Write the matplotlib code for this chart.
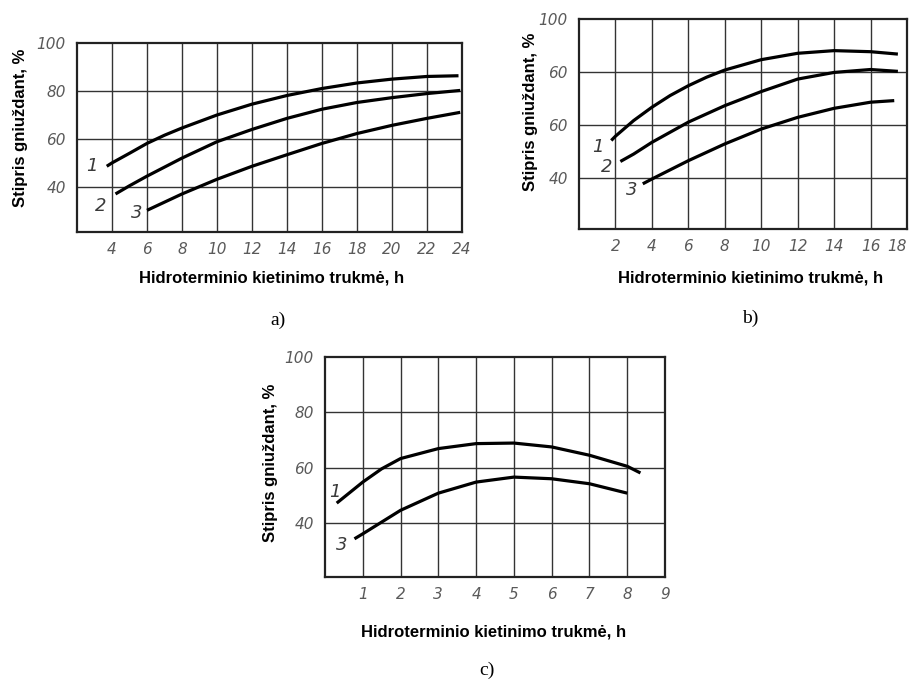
import matplotlib.pyplot as plt

# panel a) - x in hours, y in %
a_x1 = [3.7, 4, 5, 6, 7, 8, 10, 12, 14, 16, 18, 20, 22, 23.8]
a_y1 = [48.8, 50.2, 54.2, 58.3, 61.7, 64.7, 70.1, 74.6, 78.2, 81.1, 83.4, 85, 86.1, 86.4]
a_x2 = [4.2, 5, 6, 8, 10, 12, 14, 16, 18, 20, 22, 23.9]
a_y2 = [37.3, 40.7, 44.7, 52.2, 59, 64.1, 68.7, 72.5, 75.3, 77.3, 79, 80.3]
a_x3 = [6, 8, 10, 12, 14, 16, 18, 20, 22, 23.9]
a_y3 = [30.5, 37.3, 43.4, 48.8, 53.6, 58.3, 62.4, 65.8, 68.7, 71.2]

# panel b)
b_x1 = [1.77, 2, 3, 4, 5, 6, 7, 8, 10, 12, 14, 16, 17.5]
b_y1 = [54.3, 55.9, 61.8, 66.8, 71.2, 74.9, 78.1, 80.8, 84.7, 87.1, 88.1, 87.7, 86.8]
b_x2 = [2.27, 3, 4, 6, 8, 10, 12, 14, 16, 17.5]
b_y2 = [46.4, 49.2, 53.6, 61.2, 67.4, 72.7, 77.4, 79.9, 81, 80.3]
b_x3 = [3.5, 4, 6, 8, 10, 12, 14, 16, 17.3]
b_y3 = [38, 39.8, 46.7, 53, 58.6, 63, 66.4, 68.7, 69.3]

# panel c)
c_x1 = [0.31, 1, 1.5, 2, 3, 4, 5, 6, 7, 8, 8.35]
c_y1 = [47.2, 54.8, 59.6, 63.3, 66.9, 68.7, 68.9, 67.5, 64.5, 60.5, 58.1]
c_x3 = [0.78, 1, 2, 3, 4, 5, 6, 7, 8]
c_y3 = [34.3, 36.1, 44.6, 50.8, 54.8, 56.6, 56, 54.2, 50.8]

a_xticks = [4, 6, 8, 10, 12, 14, 16, 18, 20, 22, 24]
b_xticks = [2, 4, 6, 8, 10, 12, 14, 16, 18]
c_xticks = [1, 2, 3, 4, 5, 6, 7, 8, 9]
a_yticks = [40, 60, 80, 100]
b_yticks = [40, 60, 80, 100]
b_yticklabels = ["40", "60", "60", "100"]   # as printed in the source
c_yticks = [40, 60, 80, 100]

ylabel = "Stipris gniuždant, %"
xlabel = "Hidroterminio kietinimo trukmė, h"

W, H = 913, 684
fig = plt.figure(figsize=(W / 100, H / 100), dpi=100)

tick_font = dict(family=["DejaVu Sans"], style="italic", size=11, color="#5a5a5a")
label_font = dict(family=["Liberation Sans", "DejaVu Sans"], weight="bold", size=12)
sub_font = dict(family=["Liberation Serif", "DejaVu Serif"], size=14)


def px_axes(left, top, right, bottom):
    return fig.add_axes([left / W, 1 - bottom / H, (right - left) / W, (bottom - top) / H])


def ftext(x, y, s, **kw):
    fig.text(x / W, 1 - y / H, s, ha="center", va="center", **kw)


def style(ax, xlim, ylim, xticks, yticks, xgrid, ygrid, ylabels=None):
    ax.set_xlim(*xlim)
    ax.set_ylim(*ylim)
    for v in xgrid:
        ax.axvline(v, color="#333333", lw=1.0, zorder=1)
    for v in ygrid:
        ax.axhline(v, color="#333333", lw=1.0, zorder=1)
    ax.set_xticks(xticks)
    ax.set_yticks(yticks)
    ax.set_xticklabels([str(t) for t in xticks], **tick_font)
    ax.set_yticklabels(ylabels if ylabels else [str(t) for t in yticks], **tick_font)
    ax.tick_params(length=0)
    ax.tick_params(axis="y", pad=8)
    ax.tick_params(axis="x", pad=7)
    for s in ax.spines.values():
        s.set_linewidth(1.6)
        s.set_color("#222222")


curve = dict(color="black", lw=2.3, zorder=3, solid_capstyle="butt")
num_font = dict(family=["DejaVu Sans"], style="italic",
                size=13, color="#3a3a3a", ha="center", va="center")

# a)
ax = px_axes(77, 43, 462, 232)
style(ax, (2, 24), (21.5, 100), a_xticks, a_yticks,
      [4, 6, 8, 10, 12, 14, 16, 18, 20, 22], [40, 60, 80])
ax.plot(a_x1, a_y1, **curve)
ax.plot(a_x2, a_y2, **curve)
ax.plot(a_x3, a_y3, **curve)
ax.text(2.86, 48.8, "1", **num_font)
ax.text(3.33, 32.5, "2", **num_font)
ax.text(5.43, 29.2, "3", **num_font)
ftext(20, 128, ylabel, rotation=90, **label_font)
ftext(272, 278, xlabel, **label_font)
ftext(278, 320, "a)", **sub_font)

# b)
ax = px_axes(579, 19, 907, 229)
style(ax, (0, 18), (21, 100), b_xticks, b_yticks,
      [2, 4, 6, 8, 10, 12, 14, 16], [40, 60, 80], ylabels=b_yticklabels)
ax.get_xticklabels()[-1].set_ha("right")
ax.plot(b_x1, b_y1, **curve)
ax.plot(b_x2, b_y2, **curve)
ax.plot(b_x3, b_y3, **curve)
ax.text(1.02, 51.8, "1", **num_font)
ax.text(1.53, 44.2, "2", **num_font)
ax.text(2.88, 35.5, "3", **num_font)
ftext(530, 112, ylabel, rotation=90, **label_font)
ftext(751, 278, xlabel, **label_font)
ftext(750, 318, "b)", **sub_font)

# c)
ax = px_axes(325, 357, 665, 577)
style(ax, (0, 9), (20.5, 100), c_xticks, c_yticks,
      [1, 2, 3, 4, 5, 6, 7, 8], [40, 60, 80])
ax.plot(c_x1, c_y1, **curve)
ax.plot(c_x3, c_y3, **curve)
ax.text(0.26, 51.2, "1", **num_font)
ax.text(0.44, 31.9, "3", **num_font)
ftext(270, 463, ylabel, rotation=90, **label_font)
ftext(494, 632, xlabel, **label_font)
ftext(487, 670, "c)", **sub_font)

fig.savefig("out.png", dpi=100)
